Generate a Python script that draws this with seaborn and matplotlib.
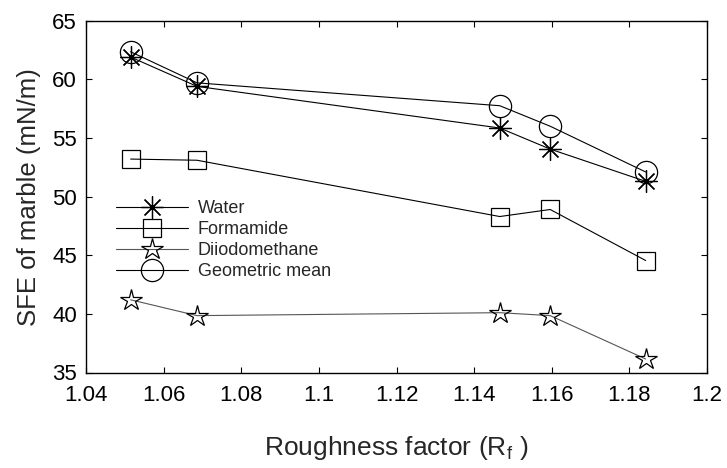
import matplotlib
matplotlib.use("Agg")
import matplotlib.pyplot as plt
import seaborn as sns
import pandas as pd

roughness = [1.0515, 1.0686, 1.1466, 1.1596, 1.1842]
water = [61.9, 59.4, 55.85, 54.05, 51.3]
formamide = [53.2, 53.1, 48.3, 48.9, 44.55]
diiodomethane = [41.2, 39.85, 40.1, 39.85, 36.15]
geometric_mean = [62.35, 59.7, 57.75, 56.0, 52.1]

series_names = ["Water", "Formamide", "Diiodomethane", "Geometric mean"]
series_values = [water, formamide, diiodomethane, geometric_mean]

x_ticks = [1.04, 1.06, 1.08, 1.1, 1.12, 1.14, 1.16, 1.18, 1.2]
x_tick_labels = ["1.04", "1.06", "1.08", "1.1", "1.12", "1.14", "1.16", "1.18", "1.2"]
y_ticks = [35, 40, 45, 50, 55, 60, 65]

sns.set_style("white")
plt.rcParams["font.family"] = ["Liberation Sans", "DejaVu Sans"]

fig = plt.figure(figsize=(7.27, 4.68), dpi=100)
left, right, top, bottom = 86 / 727, 707 / 727, 1 - 20.7 / 468, 1 - 372.5 / 468
ax = fig.add_axes([left, bottom, right - left, top - bottom])

styles = {
    "Water": dict(marker=(8, 2, 0), markersize=16, color="black", lw=0.8,
                  mew=0.9, mec="black"),
    "Formamide": dict(marker="s", markersize=13, color="black", lw=0.8,
                      mew=0.9, mfc="none", mec="black"),
    "Diiodomethane": dict(marker="*", markersize=16, color="#555555", lw=0.8,
                          mew=0.9, mfc="none", mec="black"),
    "Geometric mean": dict(marker="o", markersize=16, color="black", lw=0.8,
                           mew=0.9, mfc="none", mec="black"),
}

for name, vals in zip(series_names, series_values):
    df = pd.DataFrame({"x": roughness, "y": vals})
    sns.lineplot(data=df, x="x", y="y", ax=ax, label=name, **styles[name])

ax.set_xlim(1.04, 1.2)
ax.set_ylim(35, 65)
ax.set_xticks(x_ticks)
ax.set_xticklabels(x_tick_labels)
ax.set_yticks(y_ticks)
ax.tick_params(axis="both", direction="in", length=4, width=0.8, labelsize=16,
               top=True, right=True, bottom=True, left=True, colors="black")
ax.tick_params(axis="x", pad=9)
ax.tick_params(axis="y", pad=6.5)
for s in ax.spines.values():
    s.set_color("black")
    s.set_linewidth(1.0)

ax.set_xlabel("Roughness factor (R$_\\mathregular{f}$ )", fontsize=19, labelpad=20)
ax.set_ylabel("SFE of marble (mN/m)", fontsize=18.5, labelpad=8)

leg = ax.legend(loc="upper left", bbox_to_anchor=(0.036, 0.51), frameon=False,
                fontsize=13, handlelength=4.0, handletextpad=0.55, labelspacing=0.22,
                borderaxespad=0)

fig.savefig("out.png", dpi=100)
